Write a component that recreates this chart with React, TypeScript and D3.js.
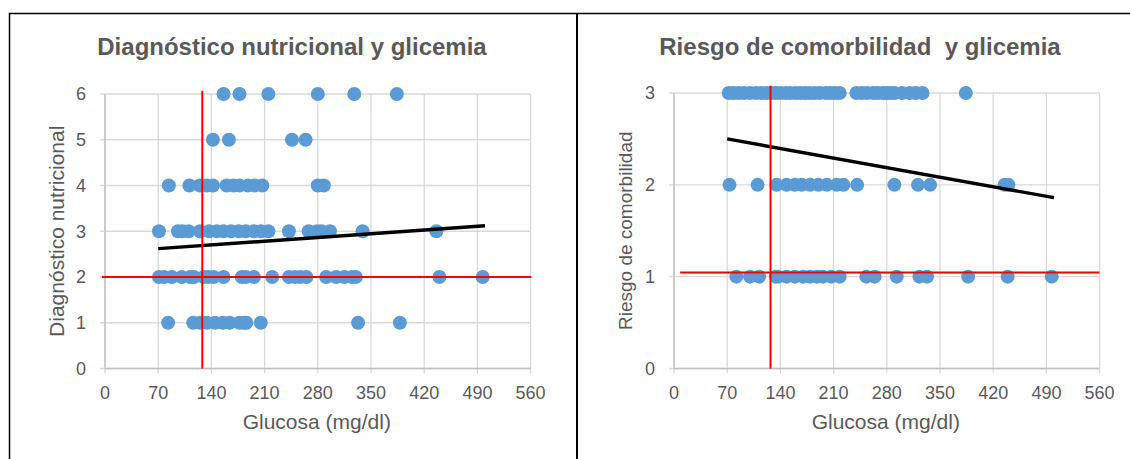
import React from 'react';
import * as d3 from 'd3';

// glucose axis (mg/dl)
const glucoseTicks = [0, 70, 140, 210, 280, 350, 420, 490, 560];

// Diagnóstico nutricional: glucose values of the patients at each level
const nutri1 = [83, 116, 125, 134, 145, 155, 164, 177, 183, 186, 205, 333, 388];
const nutri2 = [71, 78, 88, 101, 112, 117, 130, 136, 143, 156, 180, 185, 196, 220, 242, 250, 257, 265, 291, 304, 315, 325, 330, 440, 497];
const nutri3 = [71, 96, 102, 110, 125, 137, 147, 156, 166, 176, 185, 196, 205, 215, 242, 268, 279, 285, 296, 339, 436];
const nutri4 = [84, 111, 125, 134, 142, 160, 169, 177, 188, 197, 207, 280, 288];
const nutri5 = [142, 163, 246, 264];
const nutri6 = [156, 177, 215, 280, 328, 384];
const nutriLevels = [0, 1, 2, 3, 4, 5, 6];
const nutriTrend = [[70, 2.62], [500, 3.12]];
const nutriCutGlucose = 128;
const nutriCutLevel = 2;

// Riesgo de comorbilidad
const risk1 = [82, 100, 112, 134, 137, 148, 159, 170, 179, 188, 196, 207, 218, 253, 264, 293, 323, 333, 387, 439, 497];
const risk2 = [73, 110, 135, 148, 159, 168, 179, 190, 201, 214, 223, 241, 290, 321, 337, 435, 440];
const risk3 = [72, 78, 85, 92, 100, 108, 115, 122, 128, 134, 140, 147, 153, 160, 166, 172, 178, 185, 192, 200, 206, 212, 218, 240, 247, 254, 262, 268, 275, 280, 285, 290, 300, 310, 318, 327, 384];
const riskLevels = [0, 1, 2, 3];
const riskTrend = [[70, 2.5], [500, 1.86]];
const riskCutGlucose = 127;
const riskCutLevel = 1.045;

const FONT = '"Liberation Sans", Arial, sans-serif';
const TEXT = '#595959';
const DOT = '#5B9BD5';

function Scatter(props: any) {
  const { box, title, titleX, yLabel, yLabelX, yLabelSize, levels, rows, trend, cutG, cutV, vTop, hFrom, hTo } = props;
  const x = d3.scaleLinear().domain([0, 560]).range([box.left, box.right]);
  const y = d3.scaleLinear().domain([0, d3.max(levels) as number]).range([box.bottom, box.top]);
  const pts: [number, number][] = [];
  rows.forEach((vals: number[], i: number) => vals.forEach((g) => pts.push([g, i + 1])));
  const line = d3.line<number[]>().x((d) => x(d[0])).y((d) => y(d[1]));

  return (
    <g fontFamily={FONT}>
      <text x={titleX} y={55} textAnchor="middle" fontSize={24} fontWeight="bold" fill={TEXT} style={{ whiteSpace: 'pre' }}>{title}</text>

      {/* grid */}
      {levels.map((v: number) => (
        <line key={'h' + v} x1={box.left - 5} x2={box.right} y1={y(v)} y2={y(v)} stroke="#d9d9d9" strokeWidth={1.3} />
      ))}
      {glucoseTicks.map((g) => (
        <line key={'v' + g} x1={x(g)} x2={x(g)} y1={box.top} y2={box.bottom + 5} stroke="#d9d9d9" strokeWidth={1.3} />
      ))}
      <line x1={box.left} x2={box.left} y1={box.top} y2={box.bottom} stroke="#bfbfbf" strokeWidth={1.3} />
      <line x1={box.left} x2={box.right} y1={box.bottom} y2={box.bottom} stroke="#bfbfbf" strokeWidth={1.3} />

      {/* tick labels */}
      {levels.map((v: number) => (
        <text key={'yl' + v} x={box.left - 19} y={y(v)} dy="0.35em" textAnchor="end" fontSize={18} fill={TEXT}>{v}</text>
      ))}
      {glucoseTicks.map((g) => (
        <text key={'xl' + g} x={x(g)} y={box.bottom + 24} dy="0.35em" textAnchor="middle" fontSize={18} fill={TEXT}>{g}</text>
      ))}

      <text x={(box.left + box.right) / 2 - 1} y={422} dy="0.35em" textAnchor="middle" fontSize={21} fill={TEXT}>Glucosa (mg/dl)</text>
      <text transform={`translate(${yLabelX},${(box.top + box.bottom) / 2}) rotate(-90)`} dy="0.35em" textAnchor="middle" fontSize={yLabelSize} fill={TEXT}>{yLabel}</text>

      {pts.map((p, i) => (
        <circle key={i} cx={x(p[0])} cy={y(p[1])} r={7} fill={DOT} />
      ))}

      <path d={line(trend) || ''} fill="none" stroke="#000" strokeWidth={3.4} />

      <line x1={x(cutG)} x2={x(cutG)} y1={y(vTop)} y2={y(0)} stroke="#ff0000" strokeWidth={2} />
      <line x1={x(hFrom)} x2={x(hTo)} y1={y(cutV)} y2={y(cutV)} stroke="#ff0000" strokeWidth={2} />
    </g>
  );
}

export default function App() {
  return (
    <div>
      <style>{'body{margin:0;background:#fff}'}</style>
      <svg width={1130} height={459} style={{ display: 'block' }}>
        <rect width={1130} height={459} fill="#fff" />
        <Scatter
          box={{ left: 105, right: 530.6, top: 94, bottom: 368.5 }}
          title="Diagnóstico nutricional y glicemia"
          titleX={292}
          yLabel="Diagnóstico nutricional"
          yLabelX={57}
          yLabelSize={21}
          levels={nutriLevels}
          rows={[nutri1, nutri2, nutri3, nutri4, nutri5, nutri6]}
          trend={nutriTrend}
          cutG={nutriCutGlucose}
          cutV={nutriCutLevel}
          vTop={6.07}
          hFrom={-4}
          hTo={561}
        />
        <Scatter
          box={{ left: 674, right: 1099.6, top: 93, bottom: 368.5 }}
          title="Riesgo de comorbilidad  y glicemia"
          titleX={860}
          yLabel="Riesgo de comorbilidad"
          yLabelX={625}
          yLabelSize={19}
          levels={riskLevels}
          rows={[risk1, risk2, risk3]}
          trend={riskTrend}
          cutG={riskCutGlucose}
          cutV={riskCutLevel}
          vTop={3.08}
          hFrom={8}
          hTo={560}
        />
        {/* frame */}
        <path d="M9.5,459 V13.5 H1130" fill="none" stroke="#000" strokeWidth={1.5} />
        <line x1={577} x2={577} y1={13} y2={459} stroke="#000" strokeWidth={2} />
      </svg>
    </div>
  );
}
